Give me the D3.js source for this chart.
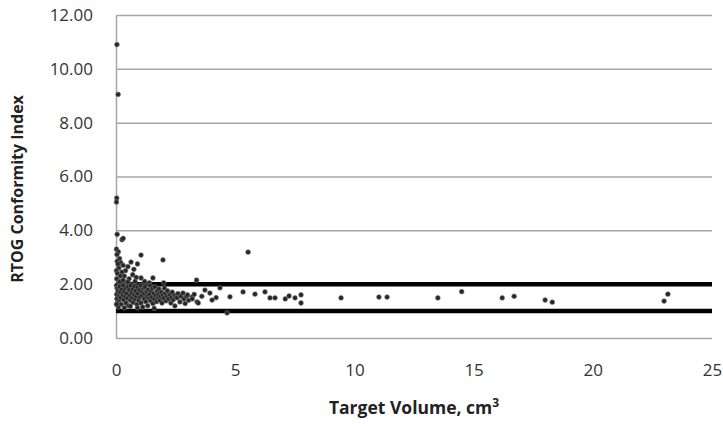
<!DOCTYPE html>
<html>
<head>
<meta charset="utf-8">
<script src="https://cdn.jsdelivr.net/npm/d3@7"></script>
<style>
  html, body { margin: 0; padding: 0; background: #fff; }
  svg { display: block; }
</style>
</head>
<body>
<svg id="chart" width="723" height="426"></svg>
<script>
// ---------------------------------------------------------------------------
// Data (target volume in cm^3, RTOG conformity index)
// ---------------------------------------------------------------------------

const xTicks = [0, 5, 10, 15, 20, 25];
const yTicks = [0, 2, 4, 6, 8, 10, 12];
const refLines = [1, 2];

const outliers = [
  [0.04, 10.9], [0.09, 9.05], [0.03, 5.2], [0.02, 5.05], [0.05, 3.85],
  [0.25, 3.65], [0.3, 3.7], [5.54, 3.19], [1.05, 3.08], [1.97, 2.9]
];

const upperPoints = [
  [0.02, 3.3], [0.1, 3.2], [0.04, 3.1], [0.15, 2.95], [0.05, 2.85], [0.2, 2.8],
  [0.08, 2.75], [0.3, 2.7], [0.12, 2.6], [0.5, 2.65], [0.63, 2.82], [0.4, 2.5],
  [0.02, 2.5], [0.25, 2.45], [0.7, 2.35], [0.06, 2.4], [0.18, 2.3], [0.85, 2.25],
  [0.35, 2.3], [0.55, 2.2], [0.03, 2.2], [0.9, 2.75], [0.75, 2.55], [1.2, 2.1],
  [1.05, 2.23], [2.0, 2.05], [1.55, 2.23], [3.38, 2.15], [0.15, 2.1], [0.45, 2.05],
  [0.8, 2.1], [1.4, 2.05], [0.3, 2.15], [0.5, 2.08]
];

const bandPoints = [
  [0.02, 1.95], [0.05, 1.85], [0.08, 1.75], [0.03, 1.62], [0.1, 1.55], [0.04, 1.45],
  [0.12, 1.38], [0.06, 1.3], [0.15, 1.9], [0.18, 1.7], [0.2, 1.5], [0.22, 1.25],
  [0.25, 1.8], [0.28, 1.6], [0.3, 1.95], [0.32, 1.42], [0.35, 1.72], [0.38, 1.55],
  [0.4, 1.85], [0.42, 1.3], [0.45, 1.65], [0.48, 1.48], [0.5, 1.9], [0.52, 1.2],
  [0.55, 1.78], [0.58, 1.58], [0.6, 1.4], [0.62, 1.95], [0.65, 1.68], [0.68, 1.5],
  [0.7, 1.82], [0.72, 1.32], [0.75, 1.6], [0.78, 1.92], [0.8, 1.45], [0.82, 1.75],
  [0.85, 1.55], [0.88, 1.25], [0.9, 1.88], [0.92, 1.65], [0.95, 1.4], [0.98, 1.78],
  [1.0, 1.52], [1.03, 1.95], [1.05, 1.3], [1.08, 1.7], [1.1, 1.58], [1.12, 1.15],
  [1.15, 1.85], [1.18, 1.45], [1.2, 1.65], [1.22, 1.9], [1.25, 1.35], [1.28, 1.72],
  [1.3, 1.55], [1.33, 1.2], [1.35, 1.8], [1.38, 1.48], [1.4, 1.62], [1.43, 1.95],
  [1.45, 1.38], [1.48, 1.75], [1.5, 1.52], [1.53, 1.85], [1.55, 1.28], [1.58, 1.65],
  [1.6, 1.45], [1.63, 1.9], [1.66, 1.58], [1.7, 1.35], [1.72, 1.75], [1.75, 1.5],
  [1.78, 1.62], [1.8, 1.82], [1.83, 1.4], [1.86, 1.55], [1.9, 1.7], [1.93, 1.3],
  [1.96, 1.6], [2.0, 1.48], [2.03, 1.85], [2.06, 1.65], [2.1, 1.38], [2.13, 1.55],
  [2.16, 1.75], [2.2, 1.45], [2.23, 1.62], [2.26, 1.6], [2.3, 1.3], [2.33, 1.5],
  [2.36, 1.7], [2.4, 1.42], [2.45, 1.58], [2.47, 1.19], [2.5, 1.52], [2.56, 1.49],
  [2.6, 1.65], [2.68, 1.34], [2.72, 1.55], [2.81, 1.67], [2.85, 1.45], [2.9, 1.28],
  [2.95, 1.55], [3.05, 1.4], [3.19, 1.52], [3.28, 1.62],
  [0.1, 1.15], [0.35, 1.12], [0.6, 1.18], [1.6, 1.1], [0.02, 1.25], [0.9, 1.12]
];

const sparsePoints = [
  [3.0, 1.6], [3.2, 1.45], [3.4, 1.34], [3.45, 1.3], [3.6, 1.55], [3.73, 1.78],
  [3.94, 1.67], [4.03, 1.41], [4.2, 1.5], [4.36, 1.86], [4.66, 0.93], [4.78, 1.53],
  [5.33, 1.71], [5.83, 1.63], [6.25, 1.71], [6.46, 1.49], [6.67, 1.49], [7.1, 1.45],
  [7.26, 1.56], [7.51, 1.49], [7.76, 1.6], [7.76, 1.3],
  [9.44, 1.49], [11.03, 1.52], [11.37, 1.52], [13.5, 1.49], [14.5, 1.72],
  [16.2, 1.49], [16.7, 1.55], [18.0, 1.41], [18.3, 1.33], [22.99, 1.37], [23.15, 1.63]
];

// ---------------------------------------------------------------------------
// Layout
// ---------------------------------------------------------------------------

const margin = { top: 15, right: 11, bottom: 88, left: 116 };
const W = 723, H = 426;
const w = W - margin.left - margin.right;
const h = H - margin.top - margin.bottom;

const svg = d3.select('#chart');
const g = svg.append('g').attr('transform', `translate(${margin.left},${margin.top})`);

const x = d3.scaleLinear().domain([0, 25]).range([0, w]);
const y = d3.scaleLinear().domain([0, 12]).range([h, 0]);

const tickFont = "'Open Sans', sans-serif";

// gridlines
g.append('g')
  .call(d3.axisLeft(y).tickValues(yTicks).tickSize(-w).tickFormat(''))
  .call(sel => {
    sel.select('.domain').remove();
    sel.selectAll('.tick line').attr('stroke', '#a6a6a6').attr('stroke-width', 1.5);
  });

// y axis line + labels
const yAx = g.append('g')
  .call(d3.axisLeft(y).tickValues(yTicks).tickSize(0).tickPadding(23).tickFormat(d3.format('.2f')));
yAx.select('.domain').attr('stroke', '#a6a6a6').attr('stroke-width', 1.5);
yAx.selectAll('text')
  .attr('font-size', 17).attr('font-family', tickFont).attr('fill', '#333');

// x axis labels
const xAx = g.append('g').attr('transform', `translate(0,${h})`)
  .call(d3.axisBottom(x).tickValues(xTicks).tickSize(0).tickPadding(26).tickFormat(d3.format('d')));
xAx.select('.domain').remove();
xAx.selectAll('text')
  .attr('font-size', 17).attr('font-family', tickFont).attr('fill', '#333');

// reference lines at CI = 1 and 2
g.selectAll('line.ref').data(refLines).join('line')
  .attr('class', 'ref')
  .attr('x1', 0).attr('x2', w)
  .attr('y1', d => y(d)).attr('y2', d => y(d))
  .attr('stroke', '#000').attr('stroke-width', 4.5);

// points
const allPoints = [...outliers, ...upperPoints, ...bandPoints, ...sparsePoints];
g.selectAll('circle.pt').data(allPoints).join('circle')
  .attr('class', 'pt')
  .attr('cx', d => x(d[0])).attr('cy', d => y(d[1]))
  .attr('r', 2.4)
  .attr('fill', '#262626')
  .attr('stroke', '#777').attr('stroke-width', 0.6);

// axis titles
svg.append('text')
  .attr('transform', `translate(23,${margin.top + 174}) rotate(-90)`)
  .attr('text-anchor', 'middle')
  .attr('font-size', 16).attr('font-weight', 'bold')
  .attr('font-family', tickFont).attr('fill', '#222')
  .text('RTOG Conformity Index');

const xt = svg.append('text')
  .attr('x', margin.left + w / 2).attr('y', 414)
  .attr('text-anchor', 'middle')
  .attr('font-size', 17.5).attr('font-weight', 'bold')
  .attr('font-family', tickFont).attr('fill', '#222');
xt.append('tspan').text('Target Volume, cm');
xt.append('tspan').attr('dy', -7).attr('font-size', 12).text('3');
</script>
</body>
</html>
